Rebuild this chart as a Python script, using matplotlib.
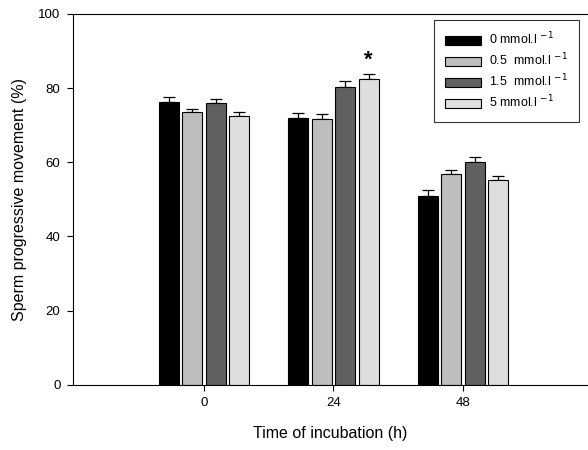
import matplotlib
matplotlib.use("Agg")
import matplotlib.pyplot as plt
import numpy as np

plt.rcParams['font.family'] = ['Liberation Sans', 'DejaVu Sans']

# --- Data ---
times = [0, 24, 48]
labels = ["0 mmol.l $^{-1}$", "0.5  mmol.l $^{-1}$", "1.5  mmol.l $^{-1}$", "5 mmol.l $^{-1}$"]
mean_0 = [76.2, 71.9, 51.0]
mean_05 = [73.5, 71.6, 56.8]
mean_15 = [75.9, 80.4, 60.2]
mean_5 = [72.4, 82.4, 55.1]
err_0 = [1.3, 1.4, 1.6]
err_05 = [1.0, 1.5, 1.2]
err_15 = [1.2, 1.4, 1.2]
err_5 = [1.2, 1.4, 1.3]
colors = ["#000000", "#bebebe", "#606060", "#dedede"]

means = [mean_0, mean_05, mean_15, mean_5]
errs = [err_0, err_05, err_15, err_5]

fig = plt.figure(figsize=(5.88, 4.5), dpi=100)
ax = fig.add_axes([0.124, 0.145, 0.876, 0.824])

x = np.array(times, dtype=float)
pitch = 4.35
width = 3.7
offsets = (np.arange(4) - 1.5) * pitch

for i in range(4):
    ax.bar(x + offsets[i], means[i], width=width, color=colors[i],
           edgecolor="black", linewidth=0.8, label=labels[i], zorder=2)
    ax.errorbar(x + offsets[i], means[i], yerr=[np.zeros(3), errs[i]],
                fmt="none", ecolor="black", elinewidth=0.9, capsize=4.5,
                capthick=0.9, zorder=1)

# significance marker
ax.text(24 + offsets[3], 87.5, "*", ha="center", va="center", fontsize=16,
        fontweight="bold")

ax.set_xlim(-24.3, 71.2)
ax.set_ylim(0, 100)
ax.set_xticks(times)
ax.set_yticks([0, 20, 40, 60, 80, 100])
ax.tick_params(direction="out", length=4, width=0.8, labelsize=9.5, pad=5)
ax.spines["right"].set_visible(False)
for s in ["left", "bottom", "top"]:
    ax.spines[s].set_linewidth(0.8)

ax.set_xlabel("Time of incubation (h)", fontsize=11.5, labelpad=12)
ax.set_ylabel("Sperm progressive movement (%)", fontsize=11.5, labelpad=8)

leg = ax.legend(loc="upper right", bbox_to_anchor=(0.982, 0.984), fontsize=9,
                frameon=True, fancybox=False, edgecolor="black",
                handlelength=2.9, handleheight=0.8, borderpad=0.9,
                labelspacing=0.35, handletextpad=0.6, borderaxespad=0)
leg.get_frame().set_linewidth(0.8)

fig.savefig("out.png", dpi=100)
